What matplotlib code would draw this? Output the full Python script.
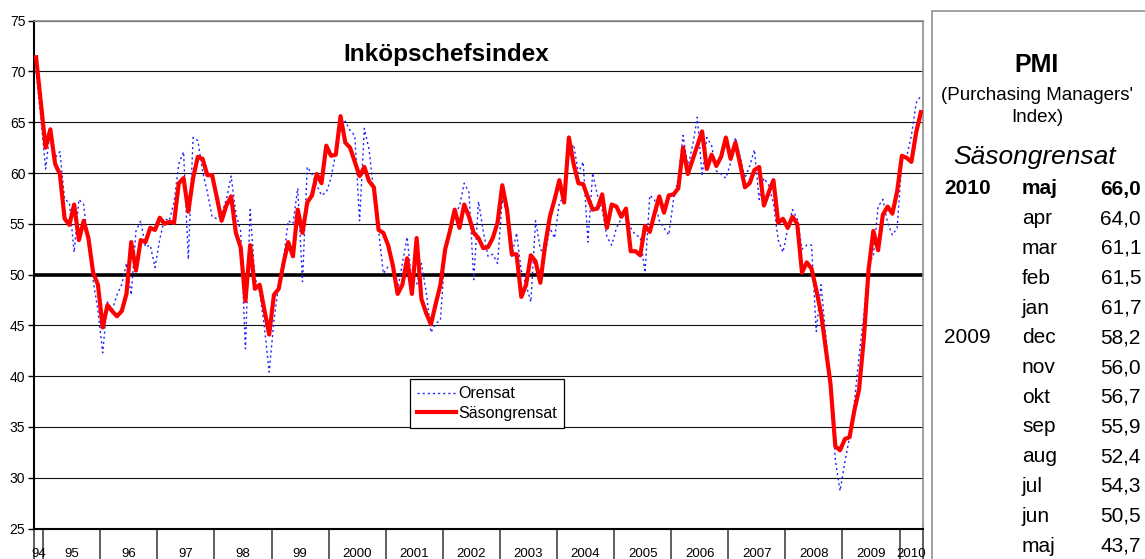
import matplotlib.pyplot as plt
from matplotlib.patches import Rectangle

plt.rcParams['font.family'] = ['Liberation Sans', 'DejaVu Sans']

# Inköpschefsindex, monthly from Nov 1994 to May 2010
year_labels = ["94", "95", "96", "97", "98", "99", "2000", "2001", "2002",
               "2003", "2004", "2005", "2006", "2007", "2008", "2009", "2010"]
months_per_year = [2, 12, 12, 12, 12, 12, 12, 12, 12, 12, 12, 12, 12, 12, 12, 12, 5]

sasongrensat = [
    71.4, 67.0,
    62.5, 64.3, 60.9, 59.9, 55.5, 54.9, 56.9, 53.4, 55.3, 53.6, 50.2, 49.0,
    44.8, 47.0, 46.4, 45.9, 46.4, 48.1, 53.2, 50.4, 53.4, 53.2, 54.6, 54.4,
    55.6, 55.0, 55.2, 55.1, 59.0, 59.5, 56.2, 59.5, 61.6, 61.4, 59.8, 59.8,
    57.6, 55.3, 56.8, 57.7, 54.1, 52.7, 47.4, 52.9, 48.6, 49.0, 46.5, 44.1,
    48.0, 48.6, 51.1, 53.2, 51.8, 56.4, 54.1, 57.1, 57.8, 59.9, 59.0, 62.7,
    61.7, 61.8, 65.6, 63.0, 62.5, 61.1, 59.7, 60.6, 59.2, 58.6, 54.4, 54.1,
    52.9, 50.9, 48.1, 49.0, 51.6, 48.1, 53.6, 47.6, 46.2, 45.1, 47.1, 49.0,
    52.5, 54.3, 56.4, 54.6, 56.9, 55.7, 54.1, 53.6, 52.6, 52.7, 53.6, 55.1,
    58.8, 56.4, 52.0, 52.0, 47.8, 49.0, 51.9, 51.3, 49.2, 52.9, 55.7, 57.4,
    59.3, 57.1, 63.5, 60.9, 59.0, 58.9, 57.6, 56.4, 56.5, 57.9, 54.6, 56.9,
    56.7, 55.7, 56.5, 52.3, 52.3, 51.9, 54.8, 54.2, 56.0, 57.7, 56.1, 57.8,
    57.9, 58.5, 62.5, 59.9, 61.3, 62.7, 64.1, 60.4, 61.8, 60.7, 61.6, 63.5,
    61.4, 63.0, 60.9, 58.6, 59.0, 60.3, 60.6, 56.8, 58.1, 59.3, 55.1, 55.5,
    54.6, 55.7, 55.0, 50.2, 51.2, 50.6, 48.5, 46.2, 42.7, 39.2, 33.1, 32.7,
    33.8, 34.0, 36.6, 38.7, 43.7, 50.5, 54.3, 52.4, 55.9, 56.7, 56.0, 58.2,
    61.7, 61.5, 61.1, 64.0, 66.0,
]

orensat = [
    70.0, 65.5,
    60.4, 64.4, 61.5, 62.1, 57.4, 57.1, 52.2, 57.4, 56.9, 52.9, 49.4, 46.5,
    42.3, 47.3, 46.5, 48.0, 49.0, 51.1, 48.0, 54.3, 55.3, 52.7, 52.9, 50.7,
    53.5, 55.5, 55.3, 57.1, 60.9, 62.1, 51.5, 63.5, 63.2, 60.2, 58.1, 55.7,
    55.5, 56.0, 57.4, 59.7, 56.0, 54.3, 42.7, 56.4, 49.7, 48.3, 44.8, 40.4,
    45.5, 49.0, 51.5, 55.3, 55.0, 58.5, 49.3, 60.6, 59.9, 58.8, 57.8, 58.1,
    59.5, 62.0, 64.5, 65.1, 64.2, 63.7, 55.3, 64.4, 62.3, 58.1, 54.3, 50.1,
    50.8, 50.9, 48.5, 51.1, 53.7, 49.0, 49.0, 51.1, 48.3, 44.3, 45.2, 45.5,
    52.5, 54.6, 56.0, 56.7, 59.0, 58.1, 49.5, 57.2, 54.3, 51.8, 52.0, 51.1,
    57.4, 56.0, 51.8, 54.1, 50.4, 49.0, 47.3, 55.3, 52.5, 52.0, 54.6, 53.6,
    57.1, 57.6, 62.0, 62.8, 60.0, 61.1, 53.2, 60.0, 57.8, 56.4, 53.7, 52.9,
    54.6, 55.5, 56.0, 54.6, 53.9, 53.7, 50.2, 57.8, 57.4, 55.3, 54.6, 53.9,
    57.4, 59.5, 63.7, 60.6, 62.7, 65.5, 59.7, 63.5, 62.7, 60.2, 59.9, 59.5,
    61.0, 63.5, 61.6, 59.5, 60.7, 62.3, 57.4, 59.5, 58.8, 57.0, 53.4, 52.2,
    54.5, 56.4, 55.5, 52.5, 52.9, 52.9, 44.4, 49.0, 44.0, 39.5, 31.8, 28.7,
    31.5, 34.0, 37.4, 42.0, 46.0, 51.1, 51.8, 56.7, 57.4, 55.1, 53.9, 54.6,
    61.3, 61.6, 63.7, 66.9, 67.6,
]

table_years = ["2010", "", "", "", "", "2009", "", "", "", "", "", "", ""]
table_months = ["maj", "apr", "mar", "feb", "jan", "dec", "nov", "okt",
                "sep", "aug", "jul", "jun", "maj"]

W, H = 1145, 559


def fpos(x, y):
    # pixel position -> figure fraction
    return x / W, 1 - y / H


fig = plt.figure(figsize=(W / 100, H / 100), dpi=100)
ax = fig.add_axes([33.7 / W, 1 - 528.5 / H, (923.3 - 33.7) / W, (528.5 - 20.7) / H])

x = list(range(len(sasongrensat)))
ax.plot(x, orensat, color='#2020ff', lw=1.0, ls=(0, (1.5, 2.2)), label='Orensat', zorder=3)
ax.plot(x, sasongrensat, color='#ff0000', lw=3.0, label='Säsongrensat', zorder=4)

ax.set_xlim(-0.5, len(x) - 0.5)
ax.set_ylim(25, 75)

# horizontal grid, 50-line drawn heavy
ax.set_yticks(range(25, 80, 5))
ax.yaxis.grid(True, color='#111111', lw=0.8)
ax.set_axisbelow(True)
ax.axhline(50, color='black', lw=2.6, zorder=2)
ax.tick_params(axis='y', direction='out', length=4, width=1, labelsize=10, pad=2)

# year groups on the category axis
bounds = [-0.5]
for n in months_per_year:
    bounds.append(bounds[-1] + n)
centers = [(a + b) / 2 for a, b in zip(bounds[:-1], bounds[1:])]
ax.set_xticks(bounds)
ax.set_xticklabels([])
ax.tick_params(axis='x', which='major', direction='out', length=23, width=1.2, color='#444444')
ax.set_xticks(centers, minor=True)
ax.set_xticklabels(year_labels, minor=True, fontsize=9.5)
ax.tick_params(axis='x', which='minor', length=0, pad=14)

for side in ['left', 'bottom']:
    ax.spines[side].set_color('black')
    ax.spines[side].set_linewidth(1.5)
for side in ['top', 'right']:
    ax.spines[side].set_color('#8c8c8c')
    ax.spines[side].set_linewidth(1.2)

ax.text(0.464, 0.9325, 'Inköpschefsindex', transform=ax.transAxes,
        ha='center', va='center', fontsize=17.5, fontweight='bold')

leg = ax.legend(loc='upper left', bbox_to_anchor=(0.423, 0.2944), borderaxespad=0,
                fontsize=11.5, frameon=True, fancybox=False, framealpha=1,
                edgecolor='black', borderpad=0.45, handlelength=2.4,
                handletextpad=0.15, labelspacing=0.3)
leg.get_frame().set_linewidth(0.9)

# side panel with latest seasonally adjusted values
x0, y0 = fpos(932, 11)
fig.patches.append(Rectangle((x0, -0.1), 0.2, y0 + 0.1, transform=fig.transFigure,
                             fill=False, edgecolor='#9a9a9a', lw=1.3))

fig.text(*fpos(1037, 65), 'PMI', ha='center', va='center', fontsize=18, fontweight='bold')
fig.text(*fpos(1037, 96), "(Purchasing Managers'", ha='center', va='center', fontsize=13.5)
fig.text(*fpos(1037, 118), 'Index)', ha='center', va='center', fontsize=13.5)
fig.text(*fpos(1035, 157), 'Säsongrensat', ha='center', va='center', fontsize=19,
         style='italic')

latest = sasongrensat[::-1][:len(table_months)]
row_y = 189
for i, (yr, mon, val) in enumerate(zip(table_years, table_months, latest)):
    weight = 'bold' if i == 0 else 'normal'
    ty = row_y + i * 29.75
    fig.text(*fpos(944, ty), yr, ha='left', va='center', fontsize=15, fontweight=weight)
    fig.text(*fpos(1022, ty), mon, ha='left', va='center', fontsize=15, fontweight=weight)
    fig.text(*fpos(1141, ty), f'{val:.1f}'.replace('.', ','), ha='right', va='center',
             fontsize=15, fontweight=weight)

fig.savefig('out.png', dpi=100)
